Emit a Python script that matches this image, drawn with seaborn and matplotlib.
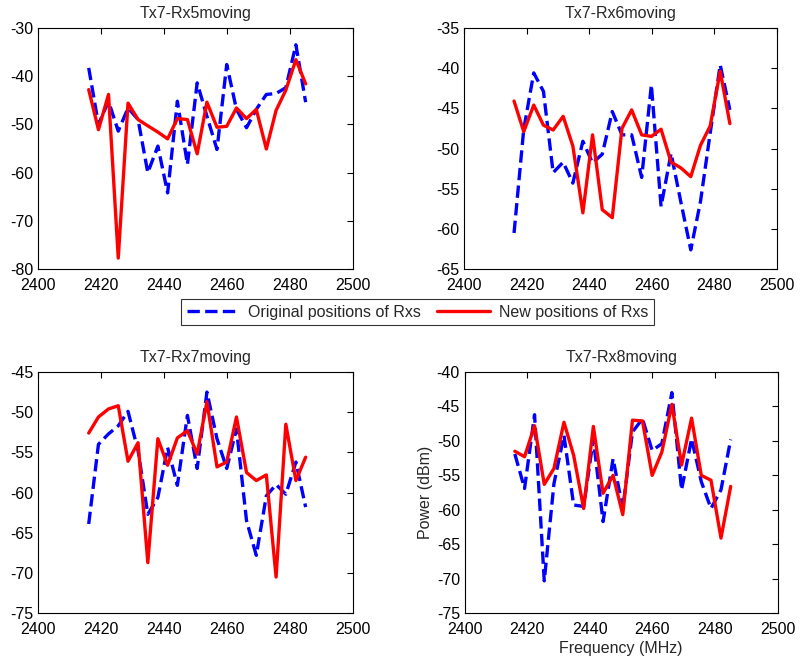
import numpy as np
import pandas as pd
import matplotlib
matplotlib.use('Agg')
import matplotlib.pyplot as plt
import seaborn as sns

# 频点 (MHz)
freq = [2416.0, 2419.1, 2422.3, 2425.4, 2428.5, 2431.7, 2434.8, 2438.0, 2441.1, 2444.2,
        2447.4, 2450.5, 2453.6, 2456.8, 2459.9, 2463.0, 2466.2, 2469.3, 2472.5, 2475.6,
        2478.7, 2481.9, 2485.0]

# Tx7-Rx5
rx5_orig = [-38.3, -50.0, -45.2, -51.4, -46.6, -49.0, -60.0, -54.5, -64.2, -45.2,
            -58.3, -41.4, -48.3, -55.2, -37.6, -46.9, -50.7, -46.9, -43.8, -43.6,
            -42.4, -33.5, -45.4]
rx5_new = [-42.8, -51.1, -43.8, -77.7, -45.6, -49.0, -50.3, -51.6, -53.0, -48.8,
           -49.0, -56.1, -45.4, -50.6, -50.4, -46.6, -48.8, -46.9, -55.1, -47.1,
           -42.9, -36.6, -41.6]

# Tx7-Rx6
rx6_orig = [-60.5, -47.6, -40.6, -42.9, -53.0, -51.7, -54.3, -49.1, -51.8, -50.7,
            -45.4, -48.3, -48.3, -53.6, -42.1, -57.2, -50.6, -56.6, -62.6, -56.6,
            -48.1, -39.6, -45.2]
rx6_new = [-44.1, -47.9, -44.6, -47.1, -47.7, -46.0, -49.7, -58.0, -48.3, -57.6,
           -58.6, -47.5, -45.2, -48.3, -48.5, -47.6, -51.7, -52.4, -53.5, -49.6,
           -47.2, -40.4, -46.9]

# Tx7-Rx7
rx7_orig = [-63.9, -54.0, -52.7, -51.7, -49.9, -54.8, -62.7, -60.6, -54.4, -59.1,
            -50.4, -57.0, -47.5, -53.3, -57.0, -52.1, -63.5, -67.8, -60.4, -59.0,
            -60.2, -56.2, -61.8]
rx7_new = [-52.6, -50.6, -49.6, -49.2, -56.1, -53.8, -68.7, -53.3, -56.6, -53.2,
           -52.3, -55.2, -48.7, -56.8, -56.2, -50.6, -57.5, -58.5, -57.8, -70.5,
           -51.5, -58.5, -55.6]

# Tx7-Rx8
rx8_orig = [-51.9, -56.9, -46.2, -70.3, -56.2, -49.2, -59.3, -59.5, -49.7, -61.7,
            -52.6, -59.8, -48.7, -46.8, -51.4, -50.4, -43.0, -57.1, -49.7, -55.9,
            -59.8, -57.1, -49.8]
rx8_new = [-51.5, -52.3, -47.8, -56.3, -54.0, -47.3, -52.1, -59.8, -47.9, -57.6,
           -55.0, -60.7, -47.0, -47.1, -55.0, -51.6, -44.7, -53.5, -46.7, -55.0,
           -55.7, -64.1, -56.6]

titles = ['Tx7-Rx5moving', 'Tx7-Rx6moving', 'Tx7-Rx7moving', 'Tx7-Rx8moving']
series_orig = [rx5_orig, rx6_orig, rx7_orig, rx8_orig]
series_new = [rx5_new, rx6_new, rx7_new, rx8_new]
ylims = [(-80, -30), (-65, -35), (-75, -45), (-75, -40)]

label_orig = 'Original positions of Rxs'
label_new = 'New positions of Rxs'

FS = 11.5

sns.set_style('white')
plt.rcParams['font.family'] = ['Liberation Sans', 'DejaVu Sans']
plt.rcParams['axes.unicode_minus'] = False
plt.rcParams['xtick.direction'] = 'in'
plt.rcParams['ytick.direction'] = 'in'
plt.rcParams['font.size'] = FS

fig = plt.figure(figsize=(8, 6.63), dpi=100)

# 子图位置 (figure 坐标)
positions = [
    [0.048, 0.594, 0.393, 0.364],
    [0.580, 0.594, 0.391, 0.364],
    [0.048, 0.075, 0.393, 0.364],
    [0.581, 0.075, 0.391, 0.364],
]

axes = []
for i in range(4):
    ax = fig.add_axes(positions[i])
    df = pd.DataFrame({'freq': freq, 'orig': series_orig[i], 'new': series_new[i]})
    sns.lineplot(data=df, x='freq', y='orig', ax=ax, color='#0000ff', linewidth=2.4,
                 linestyle='--', dashes=(2.6, 1.5), label=label_orig, legend=False)
    sns.lineplot(data=df, x='freq', y='new', ax=ax, color='#ff0000', linewidth=2.4,
                 label=label_new, legend=False)
    ax.set_xlim(2400, 2500)
    ax.set_ylim(*ylims[i])
    ax.set_xticks(np.arange(2400, 2501, 20))
    ax.set_yticks(np.arange(ylims[i][0], ylims[i][1] + 1, 5 if i > 0 else 10))
    ax.tick_params(axis='both', which='both', top=True, right=True, length=4,
                   width=0.8, labelsize=FS, colors='black')
    ax.tick_params(axis='x', pad=6.5)
    ax.tick_params(axis='y', pad=3.5)
    for sp in ax.spines.values():
        sp.set_color('black')
        sp.set_linewidth(0.8)
    ax.set_title(titles[i], fontsize=FS, pad=7)
    ax.set_xlabel('')
    ax.set_ylabel('')
    axes.append(ax)

axes[3].set_xlabel('Frequency (MHz)', fontsize=FS, labelpad=3)
axes[3].set_ylabel('Power (dBm)', fontsize=FS, labelpad=3)

handles, labels = axes[0].get_legend_handles_labels()
leg = fig.legend(handles, labels, loc='center', bbox_to_anchor=(0.522, 0.529), ncol=2,
                 frameon=True, fancybox=False, fontsize=FS, handlelength=3.3,
                 columnspacing=1.0, handletextpad=0.55, borderpad=0.35)
leg.get_frame().set_edgecolor('black')
leg.get_frame().set_linewidth(0.8)

fig.savefig('out.png', dpi=100)
